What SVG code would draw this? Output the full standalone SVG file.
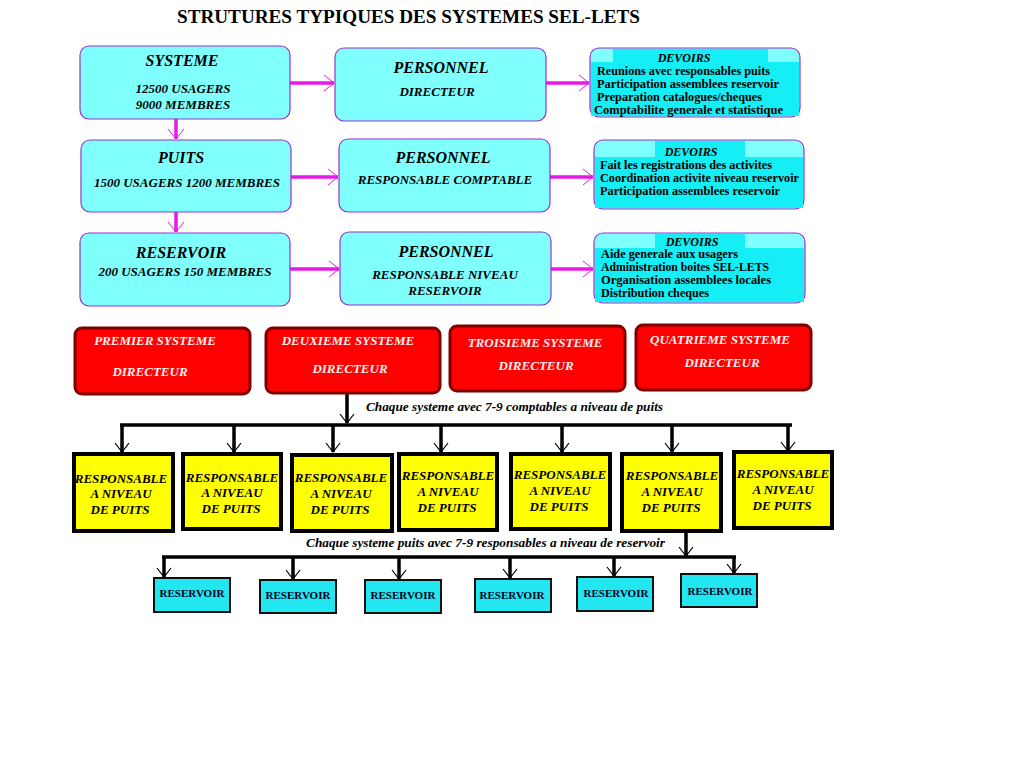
<svg xmlns="http://www.w3.org/2000/svg" width="1024" height="768" viewBox="0 0 1024 768">
<style>
.bg{fill:#ffffff}
.cy{fill:#80ffff;stroke:#9933cc;stroke-width:1.2}
.dv{fill:#80ffff;stroke:#9933cc;stroke-width:1.2}
.dvb{fill:#14eef4}
.rd{fill:#ff0000;stroke:#800000;stroke-width:3}
.ye{fill:#ffff00;stroke:#000000;stroke-width:4}
.rs{fill:#22e6f0;stroke:#101010;stroke-width:2}
text{font-family:"Liberation Serif","Times New Roman",serif;font-weight:bold;fill:#000000}
.t{font-size:19px}
.h{font-size:16px;font-style:italic;text-anchor:middle}
.s{font-size:13px;font-style:italic;text-anchor:middle}
.dh{font-size:12px;font-style:italic;text-anchor:middle}
.dl{font-size:12px}
.w{font-size:13px;font-style:italic;text-anchor:middle;fill:#fff0f0}
.y{font-size:13px;font-style:italic;text-anchor:middle}
.c{font-size:13px;font-style:italic}
.r{font-size:11px;text-anchor:middle;fill:#000020}
.ml{stroke:#e619e6;stroke-width:3.5;fill:none}
.bl{stroke:#000000;stroke-width:3.5;fill:none}
</style>
<defs>
<marker id="ma" markerUnits="userSpaceOnUse" markerWidth="14" markerHeight="20" refX="11" refY="9" orient="auto">
<path d="M1,1 L11,9 L1,17" fill="none" stroke="#e619e6" stroke-width="1"/>
</marker>
<marker id="ba" markerUnits="userSpaceOnUse" markerWidth="14" markerHeight="20" refX="10" refY="8" orient="auto">
<path d="M1,1 L10,8 L1,15" fill="none" stroke="#000000" stroke-width="1.2"/>
</marker>
</defs>
<rect class="bg" x="0" y="0" width="1024" height="768"/>
<text class="t" x="177" y="23" textLength="463" lengthAdjust="spacingAndGlyphs">STRUTURES TYPIQUES DES SYSTEMES SEL-LETS</text>

<g id="connectors">
<line class="ml" x1="290" y1="83" x2="334" y2="83" marker-end="url(#ma)"/>
<line class="ml" x1="546" y1="83" x2="589" y2="83" marker-end="url(#ma)"/>
<line class="ml" x1="291" y1="177" x2="338" y2="177" marker-end="url(#ma)"/>
<line class="ml" x1="550" y1="177" x2="593" y2="177" marker-end="url(#ma)"/>
<line class="ml" x1="290" y1="269" x2="339" y2="269" marker-end="url(#ma)"/>
<line class="ml" x1="551" y1="269" x2="593" y2="269" marker-end="url(#ma)"/>
<line class="ml" x1="176" y1="119" x2="176" y2="139" marker-end="url(#ma)"/>
<line class="ml" x1="176" y1="212" x2="176" y2="232" marker-end="url(#ma)"/>

<line class="bl" x1="347" y1="393" x2="347" y2="423" marker-end="url(#ba)"/>
<line class="bl" x1="120" y1="425" x2="792" y2="425" stroke-width="4"/>
<line class="bl" x1="122" y1="425" x2="122" y2="452" marker-end="url(#ba)"/>
<line class="bl" x1="234" y1="425" x2="234" y2="452" marker-end="url(#ba)"/>
<line class="bl" x1="333" y1="425" x2="333" y2="452" marker-end="url(#ba)"/>
<line class="bl" x1="441" y1="425" x2="441" y2="452" marker-end="url(#ba)"/>
<line class="bl" x1="562" y1="425" x2="562" y2="452" marker-end="url(#ba)"/>
<line class="bl" x1="672" y1="425" x2="672" y2="452" marker-end="url(#ba)"/>
<line class="bl" x1="788" y1="425" x2="788" y2="451" marker-end="url(#ba)"/>

<line class="bl" x1="686" y1="531" x2="686" y2="556" marker-end="url(#ba)"/>
<line class="bl" x1="162" y1="557" x2="736" y2="557" stroke-width="3.5"/>
<line class="bl" x1="164" y1="557" x2="164" y2="577" marker-end="url(#ba)"/>
<line class="bl" x1="293" y1="557" x2="293" y2="579" marker-end="url(#ba)"/>
<line class="bl" x1="399" y1="557" x2="399" y2="579" marker-end="url(#ba)"/>
<line class="bl" x1="510" y1="557" x2="510" y2="578" marker-end="url(#ba)"/>
<line class="bl" x1="614" y1="557" x2="614" y2="576" marker-end="url(#ba)"/>
<line class="bl" x1="734" y1="557" x2="734" y2="573" marker-end="url(#ba)"/>
</g>
<text class="c" x="366" y="411" textLength="297" lengthAdjust="spacingAndGlyphs">Chaque systeme avec 7-9 comptables a niveau de puits</text>
<text class="c" x="306" y="547" textLength="359" lengthAdjust="spacingAndGlyphs">Chaque systeme puits avec 7-9 responsables a niveau de reservoir</text>

<g id="systeme">
<rect class="cy" x="80" y="46" width="210" height="73" rx="9"/>
<text class="h" x="182" y="66">SYSTEME</text>
<text class="s" x="183" y="93">12500 USAGERS</text>
<text class="s" x="183" y="109">9000 MEMBRES</text>
</g>
<g id="personnel1">
<rect class="cy" x="335" y="48" width="211" height="73" rx="9"/>
<text class="h" x="441" y="73">PERSONNEL</text>
<text class="s" x="437" y="96">DIRECTEUR</text>
</g>
<g id="devoirs1">
<rect class="dv" x="590" y="48" width="210" height="69" rx="9"/>
<rect class="dvb" x="591" y="62" width="208" height="54"/>
<rect class="dvb" x="613" y="49" width="155" height="13"/>
<text class="dh" x="684" y="62">DEVOIRS</text>
<text class="dl" x="597" y="75" textLength="173" lengthAdjust="spacingAndGlyphs">Reunions avec responsables puits</text>
<text class="dl" x="597" y="88" textLength="182" lengthAdjust="spacingAndGlyphs">Participation assemblees reservoir</text>
<text class="dl" x="597" y="101" textLength="165" lengthAdjust="spacingAndGlyphs">Preparation catalogues/cheques</text>
<text class="dl" x="594" y="114" textLength="189" lengthAdjust="spacingAndGlyphs">Comptabilite generale et statistique</text>
</g>

<g id="puits">
<rect class="cy" x="81" y="140" width="210" height="72" rx="9"/>
<text class="h" x="181" y="163">PUITS</text>
<text class="s" x="187" y="187">1500 USAGERS 1200 MEMBRES</text>
</g>
<g id="personnel2">
<rect class="cy" x="339" y="139" width="211" height="73" rx="9"/>
<text class="h" x="443" y="163">PERSONNEL</text>
<text class="s" x="445" y="184">RESPONSABLE COMPTABLE</text>
</g>
<g id="devoirs2">
<rect class="dv" x="594" y="140" width="210" height="69" rx="9"/>
<rect class="dvb" x="595" y="157" width="208" height="51"/>
<rect class="dvb" x="655" y="141" width="90" height="16"/>
<text class="dh" x="691" y="156">DEVOIRS</text>
<text class="dl" x="600" y="169" textLength="172" lengthAdjust="spacingAndGlyphs">Fait les registrations des activites</text>
<text class="dl" x="600" y="182" textLength="199" lengthAdjust="spacingAndGlyphs">Coordination activite niveau reservoir</text>
<text class="dl" x="600" y="195" textLength="180" lengthAdjust="spacingAndGlyphs">Participation assemblees reservoir</text>
</g>

<g id="reservoir">
<rect class="cy" x="80" y="233" width="210" height="73" rx="9"/>
<text class="h" x="181" y="258">RESERVOIR</text>
<text class="s" x="185" y="276">200 USAGERS 150 MEMBRES</text>
</g>
<g id="personnel3">
<rect class="cy" x="340" y="232" width="211" height="73" rx="9"/>
<text class="h" x="446" y="257">PERSONNEL</text>
<text class="s" x="445" y="279">RESPONSABLE NIVEAU</text>
<text class="s" x="445" y="295">RESERVOIR</text>
</g>
<g id="devoirs3">
<rect class="dv" x="594" y="233" width="211" height="70" rx="9"/>
<rect class="dvb" x="595" y="248" width="209" height="54"/>
<rect class="dvb" x="655" y="234" width="90" height="14"/>
<text class="dh" x="692" y="246">DEVOIRS</text>
<text class="dl" x="601" y="258" textLength="137" lengthAdjust="spacingAndGlyphs">Aide generale aux usagers</text>
<text class="dl" x="601" y="271" textLength="168" lengthAdjust="spacingAndGlyphs">Administration boites SEL-LETS</text>
<text class="dl" x="601" y="284" textLength="170" lengthAdjust="spacingAndGlyphs">Organisation assemblees locales</text>
<text class="dl" x="601" y="297" textLength="108" lengthAdjust="spacingAndGlyphs">Distribution cheques</text>
</g>

<g id="premier">
<rect class="rd" x="75" y="328" width="175" height="66" rx="7"/>
<text class="w" x="155" y="345">PREMIER SYSTEME</text>
<text class="w" x="150" y="376">DIRECTEUR</text>
</g>
<g id="deuxieme">
<rect class="rd" x="266" y="328" width="174" height="65" rx="7"/>
<text class="w" x="348" y="345">DEUXIEME SYSTEME</text>
<text class="w" x="350" y="373">DIRECTEUR</text>
</g>
<g id="troisieme">
<rect class="rd" x="450" y="326" width="175" height="65" rx="7"/>
<text class="w" x="535" y="347">TROISIEME SYSTEME</text>
<text class="w" x="536" y="370">DIRECTEUR</text>
</g>
<g id="quatrieme">
<rect class="rd" x="636" y="325" width="175" height="65" rx="7"/>
<text class="w" x="720" y="344">QUATRIEME SYSTEME</text>
<text class="w" x="722" y="367">DIRECTEUR</text>
</g>

<g id="puits1">
<rect class="ye" x="74" y="454" width="99" height="77"/>
<text class="y" x="121" y="483">RESPONSABLE</text>
<text class="y" x="121" y="498">A NIVEAU</text>
<text class="y" x="120" y="514">DE PUITS</text>
</g>
<g id="puits2">
<rect class="ye" x="183" y="454" width="98" height="75"/>
<text class="y" x="232" y="482">RESPONSABLE</text>
<text class="y" x="232" y="497">A NIVEAU</text>
<text class="y" x="231" y="513">DE PUITS</text>
</g>
<g id="puits3">
<rect class="ye" x="292" y="455" width="100" height="76"/>
<text class="y" x="341" y="482">RESPONSABLE</text>
<text class="y" x="341" y="498">A NIVEAU</text>
<text class="y" x="340" y="514">DE PUITS</text>
</g>
<g id="puits4">
<rect class="ye" x="399" y="454" width="98" height="76"/>
<text class="y" x="448" y="480">RESPONSABLE</text>
<text class="y" x="448" y="496">A NIVEAU</text>
<text class="y" x="447" y="512">DE PUITS</text>
</g>
<g id="puits5">
<rect class="ye" x="511" y="454" width="99" height="75"/>
<text class="y" x="560" y="479">RESPONSABLE</text>
<text class="y" x="560" y="495">A NIVEAU</text>
<text class="y" x="559" y="511">DE PUITS</text>
</g>
<g id="puits6">
<rect class="ye" x="622" y="454" width="99" height="77"/>
<text class="y" x="672" y="480">RESPONSABLE</text>
<text class="y" x="672" y="496">A NIVEAU</text>
<text class="y" x="671" y="512">DE PUITS</text>
</g>
<g id="puits7">
<rect class="ye" x="734" y="452" width="98" height="76"/>
<text class="y" x="783" y="478">RESPONSABLE</text>
<text class="y" x="783" y="494">A NIVEAU</text>
<text class="y" x="782" y="510">DE PUITS</text>
</g>

<g id="res1">
<rect class="rs" x="154" y="578" width="76" height="34"/>
<text class="r" x="192" y="597">RESERVOIR</text>
</g>
<g id="res2">
<rect class="rs" x="260" y="580" width="76" height="33"/>
<text class="r" x="298" y="599">RESERVOIR</text>
</g>
<g id="res3">
<rect class="rs" x="365" y="580" width="76" height="33"/>
<text class="r" x="403" y="599">RESERVOIR</text>
</g>
<g id="res4">
<rect class="rs" x="475" y="579" width="76" height="33"/>
<text class="r" x="512" y="599">RESERVOIR</text>
</g>
<g id="res5">
<rect class="rs" x="577" y="577" width="76" height="34"/>
<text class="r" x="616" y="597">RESERVOIR</text>
</g>
<g id="res6">
<rect class="rs" x="681" y="574" width="76" height="33"/>
<text class="r" x="720" y="595">RESERVOIR</text>
</g>
</svg>
